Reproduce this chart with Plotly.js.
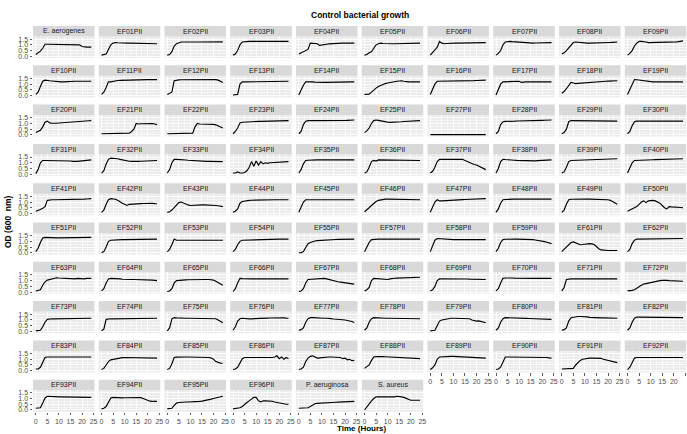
<!DOCTYPE html>
<html>
<head>
<meta charset="utf-8">
<script src="https://cdn.plot.ly/plotly-3.0.1.min.js"></script>
<style>html,body{margin:0;padding:0;background:#fff;}#chart{width:687px;height:434px;}</style>
</head>
<body>
<div id="chart"></div>
<script>
const hours = [0,1,2,3,4,5,6,7,8,9,10,11,12,13,14,15,16,17,18,19,20,21,22,23,24];

const panelLabels = [
  "E. aerogenes","EF01PII","EF02PII","EF03PII","EF04PII","EF05PII","EF06PII","EF07PII","EF08PII","EF09PII",
  "EF10PII","EF11PII","EF12PII","EF13PII","EF14PII","EF15PII","EF16PII","EF17PII","EF18PII","EF19PII",
  "EF20PII","EF21PII","EF22PII","EF23PII","EF24PII","EF25PII","EF27PII","EF28PII","EF29PII","EF30PII",
  "EF31PII","EF32PII","EF33PII","EF34PII","EF35PII","EF36PII","EF37PII","EF38PII","EF39PII","EF40PII",
  "EF41PII","EF42PII","EF43PII","EF44PII","EF45PII","EF46PII","EF47PII","EF48PII","EF49PII","EF50PII",
  "EF51PII","EF52PII","EF53PII","EF54PII","EF55PII","EF57PII","EF58PII","EF59PII","EF61PII","EF62PII",
  "EF63PII","EF64PII","EF65PII","EF66PII","EF67PII","EF68PII","EF69PII","EF70PII","EF71PII","EF72PII",
  "EF73PII","EF74PII","EF75PII","EF76PII","EF77PII","EF78PII","EF79PII","EF80PII","EF81PII","EF82PII",
  "EF83PII","EF84PII","EF85PII","EF86PII","EF87PII","EF88PII","EF89PII","EF90PII","EF91PII","EF92PII",
  "EF93PII","EF94PII","EF95PII","EF96PII","P. aeruginosa","S. aureus"
];

const odRow1 = [
  [0.15,0.3,0.45,0.7,1.05,1.05,1.05,1.05,1.05,1.05,1.05,1.05,1.05,1.05,1.05,1.05,1.05,1.05,1.05,1.0,0.85,0.8,0.8,0.8,0.8],
  [0.1,0.12,0.2,0.6,1.0,1.15,1.2,1.18,1.16,1.15,1.15,1.15,1.15,1.15,1.15,1.15,1.15,1.15,1.15,1.15,1.15,1.15,1.12,1.1,1.1],
  [0.1,0.15,0.4,0.9,1.1,1.2,1.25,1.25,1.24,1.24,1.24,1.24,1.25,1.25,1.25,1.25,1.25,1.25,1.25,1.26,1.26,1.26,1.26,1.26,1.26],
  [0.1,0.2,0.5,1.0,1.25,1.28,1.3,1.3,1.3,1.3,1.3,1.3,1.3,1.3,1.3,1.3,1.3,1.3,1.3,1.3,1.3,1.3,1.3,1.3,1.3],
  [0.2,0.3,0.4,0.5,0.6,1.15,1.15,1.15,1.1,0.95,1.0,1.05,1.05,1.08,1.1,1.1,1.12,1.14,1.15,1.15,1.15,1.15,1.15,1.15,1.15],
  [0.1,0.15,0.3,0.4,0.7,1.0,1.1,1.15,1.12,1.1,1.1,1.1,1.1,1.1,1.1,1.1,1.12,1.12,1.12,1.13,1.14,1.14,1.15,1.15,1.15],
  [0.1,0.3,0.55,0.8,1.3,1.15,1.1,1.12,1.14,1.15,1.15,1.15,1.15,1.15,1.15,1.16,1.17,1.18,1.18,1.18,1.19,1.2,1.2,1.2,1.2],
  [0.1,0.25,0.5,1.0,1.25,1.3,1.3,1.28,1.26,1.24,1.22,1.2,1.18,1.16,1.15,1.15,1.15,1.16,1.17,1.18,1.18,1.19,1.2,1.2,1.2],
  [0.2,0.3,0.5,0.75,1.0,1.2,1.25,1.22,1.18,1.16,1.15,1.15,1.15,1.15,1.15,1.15,1.16,1.17,1.18,1.19,1.2,1.21,1.22,1.24,1.25],
  [0.1,0.25,0.5,0.9,1.15,1.3,1.3,1.3,1.25,1.2,1.2,1.2,1.2,1.2,1.2,1.2,1.2,1.2,1.2,1.22,1.24,1.26,1.28,1.32,1.35]
];
const odRow2 = [
  [0.1,0.3,0.8,1.25,1.35,1.35,1.3,1.28,1.25,1.22,1.2,1.2,1.2,1.22,1.25,1.25,1.25,1.25,1.25,1.25,1.25,1.25,1.25,1.25,1.25],
  [0.1,0.3,0.7,1.2,1.2,1.25,1.3,1.32,1.33,1.34,1.35,1.35,1.35,1.36,1.36,1.37,1.37,1.38,1.38,1.38,1.39,1.39,1.4,1.4,1.4],
  [0.1,0.2,0.3,1.3,1.35,1.37,1.38,1.38,1.39,1.4,1.4,1.4,1.4,1.4,1.4,1.4,1.41,1.41,1.42,1.42,1.42,1.4,1.35,1.25,1.15],
  [0.05,0.05,0.1,1.0,1.2,1.2,1.2,1.2,1.2,1.2,1.2,1.2,1.2,1.2,1.2,1.21,1.22,1.22,1.23,1.23,1.24,1.24,1.25,1.25,1.25],
  [0.05,0.5,0.9,1.2,1.22,1.22,1.2,1.18,1.16,1.15,1.15,1.15,1.15,1.16,1.17,1.18,1.18,1.19,1.2,1.2,1.2,1.2,1.2,1.2,1.2],
  [0.1,0.1,0.12,0.3,0.5,0.65,0.8,0.9,1.0,1.05,1.1,1.15,1.2,1.22,1.25,1.28,1.3,1.25,1.2,1.2,1.2,1.2,1.2,1.2,1.2],
  [0.1,0.5,1.0,1.25,1.25,1.25,1.25,1.25,1.25,1.25,1.25,1.25,1.25,1.25,1.26,1.27,1.28,1.29,1.3,1.31,1.32,1.33,1.34,1.35,1.35],
  [0.05,0.5,1.0,1.2,1.2,1.2,1.2,1.2,1.2,1.2,1.25,1.15,1.2,1.2,1.2,1.2,1.2,1.2,1.2,1.2,1.2,1.2,1.2,1.2,1.2],
  [0.2,0.35,0.6,0.9,1.15,1.1,1.05,1.07,1.09,1.1,1.12,1.14,1.15,1.17,1.18,1.2,1.21,1.22,1.24,1.25,1.26,1.27,1.28,1.29,1.3],
  [0.1,0.5,1.0,1.4,1.38,1.35,1.3,1.28,1.25,1.23,1.22,1.2,1.2,1.2,1.2,1.2,1.2,1.2,1.2,1.2,1.2,1.2,1.2,1.2,1.2]
];
const odRow3 = [
  [0.2,0.3,0.4,0.7,1.1,1.2,1.05,1.02,1.0,1.02,1.04,1.06,1.08,1.1,1.12,1.14,1.15,1.17,1.18,1.2,1.21,1.22,1.23,1.24,1.25],
  [0.1,0.1,0.1,0.1,0.1,0.1,0.1,0.1,0.1,0.1,0.1,0.12,0.15,0.3,0.5,1.0,0.95,0.97,0.98,1.0,1.0,1.0,0.98,0.95,0.9],
  [0.1,0.1,0.1,0.1,0.1,0.1,0.1,0.1,0.1,0.1,0.12,0.15,0.7,1.0,0.95,0.95,0.95,0.95,0.95,0.95,0.92,0.88,0.8,0.7,0.6],
  [0.1,0.3,0.6,1.05,1.1,1.12,1.13,1.14,1.15,1.16,1.17,1.18,1.18,1.19,1.2,1.2,1.21,1.21,1.22,1.22,1.23,1.23,1.24,1.24,1.25],
  [0.1,0.3,0.9,1.2,1.25,1.25,1.2,1.2,1.2,1.2,1.2,1.2,1.21,1.22,1.22,1.23,1.24,1.24,1.25,1.25,1.26,1.27,1.28,1.29,1.3],
  [0.2,0.35,0.6,1.0,1.25,1.3,1.27,1.22,1.18,1.15,1.12,1.1,1.1,1.1,1.12,1.14,1.15,1.17,1.18,1.2,1.21,1.22,1.23,1.24,1.25],
  [0.02,0.02,0.02,0.02,0.02,0.02,0.02,0.02,0.02,0.02,0.02,0.02,0.02,0.02,0.02,0.02,0.02,0.02,0.02,0.02,0.02,0.02,0.02,0.02,0.02],
  [0.1,0.3,0.9,1.15,1.18,1.2,1.2,1.2,1.2,1.21,1.21,1.22,1.22,1.23,1.23,1.24,1.24,1.25,1.26,1.26,1.27,1.28,1.28,1.29,1.3],
  [0.1,0.2,0.5,1.15,1.25,1.25,1.25,1.25,1.25,1.25,1.25,1.24,1.24,1.23,1.23,1.22,1.22,1.22,1.21,1.21,1.2,1.2,1.2,1.2,1.2],
  [0.1,0.3,0.8,1.15,1.2,1.2,1.18,1.17,1.16,1.15,1.15,1.15,1.15,1.15,1.16,1.16,1.17,1.17,1.18,1.18,1.19,1.19,1.2,1.2,1.2]
];
const odRow4 = [
  [0.05,0.4,1.0,1.2,1.2,1.2,1.2,1.2,1.2,1.2,1.2,1.2,1.2,1.2,1.18,1.15,1.12,1.1,1.12,1.14,1.16,1.18,1.2,1.23,1.25],
  [0.1,0.3,0.9,1.3,1.4,1.4,1.4,1.35,1.3,1.25,1.2,1.15,1.13,1.12,1.1,1.1,1.12,1.13,1.14,1.15,1.16,1.17,1.18,1.19,1.2],
  [0.1,0.4,1.0,1.3,1.3,1.3,1.28,1.26,1.24,1.22,1.2,1.18,1.17,1.16,1.15,1.14,1.13,1.12,1.12,1.11,1.11,1.1,1.1,1.1,1.1],
  [0.1,0.1,0.2,0.1,0.1,0.15,0.3,0.6,1.1,0.7,1.15,0.8,1.1,0.9,1.0,0.95,1.0,1.02,1.04,1.05,1.06,1.07,1.08,1.09,1.1],
  [0.1,0.4,0.9,1.2,1.22,1.24,1.25,1.25,1.25,1.25,1.25,1.25,1.25,1.25,1.25,1.25,1.25,1.25,1.25,1.25,1.25,1.25,1.25,1.25,1.25],
  [0.1,0.2,0.6,1.1,1.2,1.15,1.25,1.25,1.25,1.25,1.25,1.25,1.25,1.25,1.25,1.25,1.25,1.25,1.24,1.23,1.22,1.21,1.2,1.2,1.2],
  [0.1,0.25,0.6,1.1,1.3,1.3,1.3,1.3,1.3,1.3,1.3,1.3,1.3,1.3,1.3,1.2,1.1,1.0,0.9,0.85,0.8,0.7,0.6,0.5,0.4],
  [0.1,0.5,1.1,1.3,1.28,1.25,1.24,1.23,1.22,1.21,1.2,1.18,1.17,1.16,1.15,1.15,1.16,1.17,1.18,1.19,1.2,1.21,1.22,1.23,1.25],
  [0.1,0.2,0.6,1.1,1.2,1.21,1.22,1.23,1.24,1.25,1.26,1.27,1.27,1.28,1.29,1.3,1.3,1.31,1.32,1.32,1.33,1.33,1.34,1.35,1.35],
  [0.1,0.5,1.0,1.2,1.2,1.21,1.22,1.23,1.24,1.25,1.25,1.26,1.27,1.28,1.28,1.29,1.3,1.3,1.31,1.32,1.32,1.33,1.34,1.35,1.35]
];
const odRow5 = [
  [0.2,0.25,0.35,0.45,0.6,1.15,1.2,1.2,1.2,1.2,1.2,1.2,1.2,1.2,1.2,1.2,1.2,1.21,1.22,1.23,1.24,1.25,1.27,1.28,1.3],
  [0.1,0.3,0.8,1.2,1.3,1.3,1.25,1.15,1.0,0.9,0.8,0.7,0.8,0.8,0.8,0.82,0.85,0.86,0.87,0.88,0.9,0.9,0.88,0.86,0.85],
  [0.1,0.15,0.3,0.5,0.7,0.95,1.0,0.9,0.8,0.75,0.7,0.72,0.73,0.74,0.75,0.75,0.75,0.75,0.74,0.73,0.72,0.7,0.68,0.65,0.6],
  [0.1,0.2,0.4,0.9,1.05,1.1,1.15,1.15,1.16,1.17,1.17,1.18,1.18,1.18,1.19,1.19,1.19,1.2,1.2,1.2,1.2,1.2,1.2,1.2,1.2],
  [0.1,0.5,1.0,1.2,1.2,1.2,1.2,1.2,1.2,1.2,1.2,1.2,1.2,1.2,1.2,1.2,1.2,1.2,1.2,1.2,1.2,1.2,1.2,1.2,1.2],
  [0.15,0.3,0.5,0.7,0.9,1.05,1.15,1.2,1.25,1.25,1.25,1.25,1.25,1.25,1.25,1.25,1.25,1.25,1.24,1.23,1.22,1.21,1.2,1.2,1.2],
  [0.1,0.5,1.0,1.2,1.1,1.1,1.12,1.14,1.15,1.16,1.17,1.18,1.19,1.2,1.21,1.22,1.23,1.24,1.25,1.26,1.27,1.28,1.29,1.3,1.3],
  [0.1,0.4,0.9,1.2,1.22,1.24,1.25,1.25,1.25,1.25,1.25,1.25,1.25,1.25,1.25,1.25,1.25,1.25,1.25,1.25,1.25,1.25,1.25,1.25,1.25],
  [0.1,0.3,0.8,1.2,1.24,1.25,1.25,1.25,1.25,1.25,1.25,1.25,1.25,1.25,1.25,1.26,1.25,1.24,1.23,1.21,1.2,1.15,1.05,0.95,0.8],
  [0.2,0.3,0.4,0.5,0.6,0.8,1.0,1.1,0.95,1.1,1.15,1.15,1.1,1.0,0.9,0.7,0.5,0.4,0.6,0.58,0.55,0.55,0.55,0.52,0.5]
];
const odRow6 = [
  [0.1,0.4,0.9,1.3,1.35,1.33,1.3,1.3,1.3,1.3,1.3,1.3,1.3,1.3,1.3,1.31,1.32,1.32,1.33,1.33,1.34,1.34,1.35,1.35,1.35],
  [0.0,0.1,0.5,1.0,1.1,1.12,1.14,1.15,1.15,1.15,1.15,1.15,1.15,1.15,1.16,1.16,1.17,1.17,1.18,1.18,1.19,1.19,1.2,1.2,1.2],
  [0.1,0.3,0.7,1.2,1.1,1.1,1.1,1.1,1.1,1.1,1.1,1.1,1.1,1.1,1.1,1.1,1.1,1.1,1.1,1.1,1.1,1.1,1.1,1.1,1.1],
  [0.1,0.3,0.7,1.0,1.1,1.11,1.12,1.12,1.13,1.13,1.14,1.14,1.15,1.15,1.16,1.16,1.17,1.17,1.18,1.18,1.19,1.19,1.2,1.2,1.2],
  [0.0,0.0,0.1,0.5,0.8,0.9,1.0,1.03,1.06,1.08,1.1,1.11,1.12,1.13,1.14,1.15,1.16,1.17,1.17,1.18,1.18,1.19,1.19,1.2,1.2],
  [0.1,0.5,0.9,1.15,1.18,1.2,1.2,1.2,1.2,1.2,1.2,1.2,1.2,1.2,1.2,1.2,1.2,1.2,1.2,1.2,1.2,1.2,1.2,1.2,1.2],
  [0.1,0.6,1.1,1.25,1.23,1.2,1.19,1.18,1.17,1.16,1.15,1.15,1.15,1.15,1.15,1.15,1.15,1.15,1.15,1.15,1.15,1.15,1.15,1.15,1.15],
  [0.1,0.4,0.9,1.15,1.18,1.2,1.2,1.2,1.2,1.2,1.2,1.2,1.2,1.2,1.2,1.18,1.15,1.12,1.1,1.06,1.02,0.98,0.92,0.86,0.8],
  [0.1,0.3,0.5,0.7,0.9,0.95,0.85,0.78,0.7,0.72,0.76,0.8,0.8,0.78,0.72,0.55,0.35,0.25,0.22,0.2,0.2,0.2,0.2,0.2,0.2],
  [0.1,0.3,0.8,1.1,1.2,1.2,1.2,1.2,1.2,1.2,1.2,1.2,1.2,1.2,1.2,1.2,1.2,1.21,1.21,1.22,1.22,1.23,1.23,1.24,1.25]
];
const odRow7 = [
  [0.1,0.12,0.2,0.6,0.9,1.05,1.1,1.15,1.2,1.25,1.23,1.22,1.2,1.18,1.2,1.17,1.2,1.16,1.2,1.17,1.2,1.16,1.2,1.18,1.2],
  [0.1,0.3,0.8,1.15,1.2,1.2,1.2,1.18,1.15,1.12,1.1,1.1,1.1,1.1,1.1,1.1,1.1,1.1,1.1,1.1,1.08,1.06,1.04,1.02,1.0],
  [0.05,0.1,0.3,0.8,1.0,1.03,1.05,1.06,1.07,1.08,1.09,1.1,1.1,1.1,1.1,1.1,1.1,1.1,1.1,1.08,1.05,0.95,0.85,0.72,0.6],
  [0.05,0.3,0.8,1.2,1.18,1.16,1.15,1.15,1.15,1.15,1.15,1.15,1.15,1.15,1.15,1.15,1.15,1.15,1.15,1.15,1.15,1.15,1.15,1.15,1.15],
  [0.05,0.1,0.3,0.8,1.1,1.12,1.15,1.17,1.18,1.2,1.2,1.2,1.15,1.1,1.0,0.97,0.94,0.9,0.87,0.84,0.8,0.77,0.74,0.72,0.7],
  [0.1,0.2,0.4,1.0,1.2,1.18,1.15,1.13,1.11,1.1,1.1,1.15,1.2,1.21,1.22,1.23,1.24,1.25,1.26,1.27,1.28,1.28,1.29,1.3,1.3],
  [0.1,0.2,0.5,1.0,1.15,1.15,1.15,1.15,1.15,1.16,1.18,1.2,1.17,1.15,1.15,1.15,1.14,1.13,1.13,1.12,1.12,1.11,1.11,1.1,1.1],
  [0.1,0.3,0.8,1.2,1.23,1.25,1.24,1.23,1.22,1.21,1.2,1.2,1.2,1.2,1.2,1.2,1.2,1.2,1.2,1.2,1.2,1.2,1.2,1.2,1.2],
  [0.1,0.4,1.1,1.15,1.15,1.15,1.15,1.15,1.15,1.15,1.15,1.15,1.15,1.15,1.15,1.15,1.15,1.15,1.15,1.15,1.15,1.15,1.15,1.15,1.15],
  [0.1,0.1,0.15,0.2,0.35,0.5,0.6,0.7,0.75,0.8,0.85,0.88,0.92,0.95,1.0,1.02,1.05,1.03,1.0,1.0,0.98,0.97,0.96,0.95,0.95]
];
const odRow8 = [
  [0.05,0.05,0.1,0.4,0.8,1.05,1.1,1.1,1.1,1.1,1.1,1.1,1.1,1.1,1.1,1.1,1.1,1.1,1.1,1.1,1.1,1.1,1.1,1.12,1.15],
  [0.05,0.2,1.05,1.1,1.1,1.1,1.1,1.1,1.1,1.1,1.1,1.11,1.11,1.12,1.12,1.12,1.13,1.13,1.13,1.14,1.14,1.14,1.15,1.15,1.15],
  [0.05,0.3,1.1,1.2,1.18,1.16,1.15,1.15,1.15,1.15,1.15,1.15,1.15,1.15,1.15,1.15,1.15,1.15,1.15,1.15,1.15,1.1,1.0,0.88,0.75],
  [0.1,0.4,0.9,1.1,1.15,1.12,1.1,1.1,1.1,1.1,1.11,1.12,1.13,1.14,1.15,1.16,1.17,1.18,1.19,1.2,1.2,1.2,1.18,1.16,1.15],
  [0.1,0.15,0.3,0.8,1.1,1.2,1.2,1.18,1.17,1.16,1.15,1.15,1.15,1.15,1.12,1.08,1.05,1.04,1.03,1.02,1.0,0.97,0.88,0.86,0.78],
  [0.1,0.3,0.8,1.1,1.2,1.18,1.16,1.15,1.15,1.15,1.15,1.15,1.15,1.15,1.15,1.15,1.15,1.15,1.15,1.15,1.15,1.15,1.15,1.12,1.1],
  [0.05,0.05,0.1,0.5,0.9,1.0,1.05,1.1,1.15,1.15,1.15,1.15,1.15,1.15,1.15,1.15,1.15,1.1,1.0,0.95,0.9,0.92,0.85,0.82,0.75],
  [0.1,0.3,0.8,1.1,1.2,1.2,1.18,1.17,1.16,1.15,1.15,1.15,1.15,1.14,1.13,1.12,1.11,1.1,1.09,1.08,1.07,1.07,1.06,1.05,1.05],
  [0.1,0.15,0.3,0.9,1.2,1.25,1.3,1.3,1.3,1.3,1.3,1.27,1.22,1.2,1.2,1.2,1.19,1.18,1.18,1.17,1.16,1.16,1.15,1.15,1.15],
  [0.1,0.3,0.8,1.15,1.25,1.25,1.25,1.25,1.25,1.25,1.25,1.25,1.25,1.25,1.25,1.25,1.25,1.25,1.25,1.25,1.25,1.25,1.25,1.22,1.2]
];
const odRow9 = [
  [0.15,0.15,0.3,0.7,1.15,1.2,1.2,1.18,1.17,1.16,1.15,1.15,1.15,1.15,1.15,1.15,1.16,1.17,1.18,1.18,1.19,1.2,1.2,1.2,1.2],
  [0.1,0.2,0.5,0.8,0.95,1.0,1.05,1.1,1.12,1.14,1.15,1.15,1.14,1.13,1.12,1.11,1.1,1.1,1.1,1.1,1.1,1.1,1.1,1.1,1.1],
  [0.1,0.2,0.6,1.15,1.18,1.2,1.2,1.2,1.2,1.2,1.2,1.2,1.2,1.2,1.2,1.2,1.2,1.18,1.15,1.1,1.0,0.8,0.7,0.66,0.65],
  [0.1,0.15,0.3,0.7,1.05,1.15,1.15,1.12,1.1,1.1,1.1,1.1,1.1,1.1,1.1,1.1,1.12,1.15,1.2,1.3,1.05,1.2,1.0,1.15,1.05],
  [0.1,0.15,0.3,0.8,1.1,1.25,1.3,1.2,1.1,1.12,1.15,1.18,1.2,1.2,1.2,1.2,1.2,1.18,1.15,1.05,1.1,0.95,1.0,0.88,0.9],
  [0.2,0.35,0.5,0.9,1.2,1.23,1.25,1.24,1.23,1.22,1.21,1.2,1.2,1.19,1.18,1.17,1.16,1.15,1.14,1.12,1.1,1.09,1.08,1.06,1.05],
  [0.1,0.25,0.5,1.0,1.2,1.22,1.24,1.25,1.25,1.25,1.25,1.24,1.22,1.2,1.2,1.19,1.18,1.17,1.16,1.15,1.14,1.13,1.12,1.11,1.1],
  [0.1,0.15,0.3,0.8,1.2,1.2,1.2,1.2,1.2,1.2,1.2,1.2,1.2,1.2,1.2,1.2,1.2,1.2,1.2,1.2,1.2,1.18,1.15,1.12,1.1],
  [0.15,0.15,0.15,0.16,0.18,0.2,0.5,0.7,0.9,1.0,1.05,1.08,1.1,1.1,1.1,1.1,1.1,1.08,1.0,0.95,0.9,0.85,0.75,0.72,0.7],
  [0.1,0.3,0.7,1.1,1.15,1.15,1.15,1.15,1.16,1.17,1.18,1.19,1.2,1.2,1.19,1.18,1.17,1.16,1.16,1.15,1.15,1.15,1.15,1.15,1.15]
];
const odRow10 = [
  [0.15,0.17,0.2,0.6,1.05,1.2,1.18,1.16,1.15,1.15,1.15,1.15,1.15,1.15,1.15,1.15,1.15,1.15,1.15,1.15,1.15,1.15,1.12,1.1,1.1],
  [0.1,0.15,0.3,0.7,1.05,1.1,1.08,1.06,1.05,1.06,1.07,1.08,1.09,1.1,1.1,1.1,1.1,1.08,1.0,0.9,0.8,0.77,0.75,0.75,0.75],
  [0.1,0.12,0.15,0.4,0.6,0.65,0.68,0.7,0.7,0.7,0.7,0.71,0.72,0.73,0.75,0.78,0.81,0.85,0.9,0.95,1.0,1.05,1.1,1.15,1.2],
  [0.1,0.12,0.15,0.2,0.3,0.5,0.65,0.8,0.95,1.1,1.1,0.8,0.7,0.8,0.8,0.8,0.78,0.76,0.7,0.65,0.6,0.55,0.52,0.5,0.5],
  [0.15,0.15,0.15,0.18,0.2,0.3,0.45,0.55,0.58,0.6,0.62,0.63,0.64,0.65,0.66,0.67,0.68,0.69,0.7,0.7,0.72,0.73,0.74,0.75,0.75],
  [0.0,0.3,0.6,0.8,1.0,1.15,1.15,1.15,1.15,1.15,1.15,1.15,1.12,1.15,1.2,1.2,1.15,1.1,1.0,0.9,0.85,0.85,0.85,0.85,0.85]
];

const xTickVals = [0,5,10,15,20,25];
const yTickVals = [0,0.5,1.0,1.5];

const allSeries = [].concat(odRow1, odRow2, odRow3, odRow4, odRow5, odRow6, odRow7, odRow8, odRow9, odRow10);

const W = 687, H = 434;
const colLeft0 = 33, colPitch = 65.75, colW = 61.5;
const rowTop0 = 26, rowPitch = 39.3, stripH = 10.5, panelH = 21.5;
const FONT = "Liberation Sans, Arial, Helvetica, sans-serif";

const traces = [];
const shapes = [];
const annotations = [];
const layout = {
  width: W, height: H,
  margin: {l: 0, r: 0, t: 0, b: 0},
  paper_bgcolor: '#FFFFFF',
  plot_bgcolor: '#EBEBEB',
  font: {family: FONT, size: 7, color: '#4D4D4D'},
  showlegend: false,
  hovermode: false
};

panelLabels.forEach((lab, i) => {
  const r = Math.floor(i / 10), c = i % 10;
  const n = i + 1;
  const sfx = n === 1 ? '' : String(n);
  const left = colLeft0 + c * colPitch, right = left + colW;
  const sTop = rowTop0 + r * rowPitch, pTop = sTop + stripH, pBot = pTop + panelH;
  const isBottom = (r === 9) || (r === 8 && c >= 6);
  const isLeft = c === 0;
  layout['xaxis' + sfx] = {
    domain: [left / W, right / W], anchor: 'y' + sfx,
    range: [-1.2, 25.4], tickmode: 'array', tickvals: xTickVals,
    ticktext: xTickVals.map(String),
    showticklabels: isBottom, ticks: isBottom ? 'outside' : '',
    ticklen: 2.5, tickwidth: 0.8, tickcolor: '#333333',
    tickfont: {family: FONT, size: 7, color: '#4D4D4D'},
    showgrid: true, gridcolor: '#FFFFFF', gridwidth: 0.9,
    minor: {tickmode: 'array', tickvals: [2.5,7.5,12.5,17.5,22.5], showgrid: true, gridcolor: '#FFFFFF', gridwidth: 0.45, ticks: ''},
    zeroline: false, showline: false, fixedrange: true, automargin: false
  };
  layout['yaxis' + sfx] = {
    domain: [1 - pBot / H, 1 - pTop / H], anchor: 'x' + sfx,
    range: [-0.15, 1.73], tickmode: 'array', tickvals: yTickVals,
    ticktext: yTickVals.map(v => v.toFixed(1)),
    showticklabels: isLeft, ticks: isLeft ? 'outside' : '',
    ticklen: 2.5, tickwidth: 0.8, tickcolor: '#333333',
    tickfont: {family: FONT, size: 7, color: '#4D4D4D'},
    showgrid: true, gridcolor: '#FFFFFF', gridwidth: 0.9,
    minor: {tickmode: 'array', tickvals: [0.25,0.75,1.25], showgrid: true, gridcolor: '#FFFFFF', gridwidth: 0.45, ticks: ''},
    zeroline: false, showline: false, fixedrange: true, automargin: false
  };
  shapes.push({
    type: 'rect', xref: 'paper', yref: 'paper', layer: 'below',
    x0: left / W, x1: right / W, y0: 1 - pTop / H, y1: 1 - sTop / H,
    fillcolor: '#D9D9D9', line: {width: 0}
  });
  annotations.push({
    text: lab, xref: 'paper', yref: 'paper',
    x: (left + right) / 2 / W, y: 1 - (sTop + stripH / 2) / H,
    xanchor: 'center', yanchor: 'middle', showarrow: false,
    font: {family: FONT, size: 7, color: '#1A1A1A'}
  });
  traces.push({
    x: hours, y: allSeries[i], xaxis: 'x' + sfx, yaxis: 'y' + sfx,
    type: 'scatter', mode: 'lines',
    line: {color: '#000000', width: 1.15}, hoverinfo: 'skip', showlegend: false
  });
});

annotations.push({
  text: '<b>Control bacterial growth</b>', xref: 'paper', yref: 'paper',
  x: 360 / W, y: 1 - 15 / H, xanchor: 'center', yanchor: 'middle', showarrow: false,
  font: {family: FONT, size: 8.5, color: '#000000'}
});
annotations.push({
  text: '<b>OD (600  nm)</b>', xref: 'paper', yref: 'paper',
  x: 8 / W, y: 1 - 222 / H, xanchor: 'center', yanchor: 'middle', showarrow: false,
  textangle: -90, font: {family: FONT, size: 8.5, color: '#000000'}
});
annotations.push({
  text: '<b>Time (Hours)</b>', xref: 'paper', yref: 'paper',
  x: 362 / W, y: 0, xanchor: 'center', yanchor: 'bottom', showarrow: false,
  borderpad: 0,
  font: {family: FONT, size: 8, color: '#000000'}
});

layout.shapes = shapes;
layout.annotations = annotations;

Plotly.newPlot('chart', traces, layout, {staticPlot: true, displayModeBar: false});
</script>
</body>
</html>
